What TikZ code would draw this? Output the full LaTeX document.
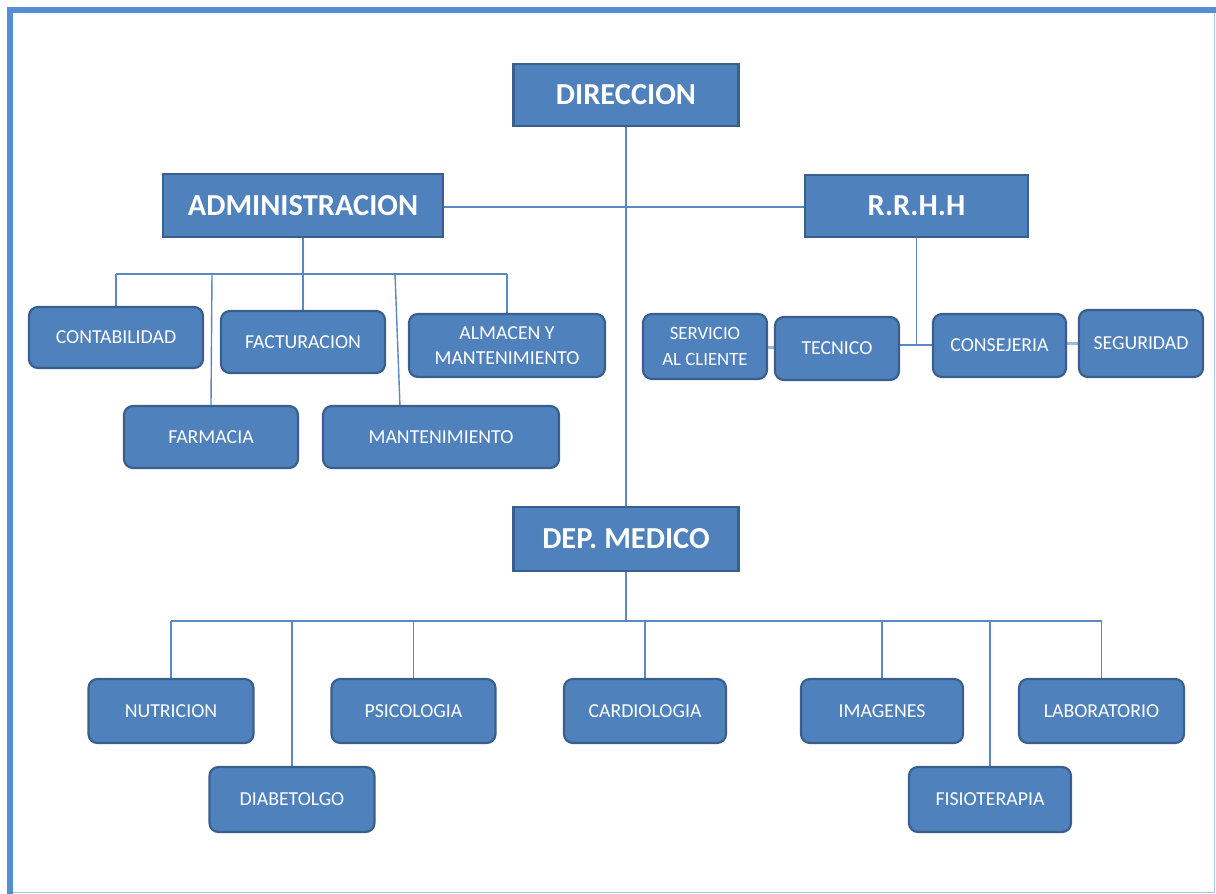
\documentclass[tikz,border=0pt]{standalone}
\usepackage{fontspec}
\setmainfont{Carlito}
\usetikzlibrary{backgrounds}
\definecolor{boxfill}{HTML}{4F81BD}
\definecolor{boxline}{HTML}{3A5F8C}
\definecolor{conn}{HTML}{5B87C2}
\definecolor{connlight}{HTML}{9DB9DC}
\definecolor{framedark}{HTML}{558ED5}
\definecolor{framelight}{HTML}{A9C4E6}
\tikzset{
  x=1pt, y=-1pt,
  bigbox/.style={draw=boxline, fill=boxfill, line width=2.2pt, inner sep=0pt,
    text=white, font=\fontsize{30.5}{36}\selectfont\bfseries, align=center},
  unitbox/.style={draw=boxline, fill=boxfill, line width=2.2pt, inner sep=0pt,
    rounded corners=9pt, text=white, font=\fontsize{19.8}{25}\selectfont, align=center},
  link/.style={draw=conn, line width=1.4pt},
  lightlink/.style={draw=connlight, line width=3pt},
}
\begin{document}
\begin{tikzpicture}
\useasboundingbox (0,0) rectangle (1216,894);
% frame
\draw[framelight, line width=1.5pt] (1214.5,7) -- (1214.5,892.5) -- (7,892.5);
\draw[framedark, line width=6pt] (10,894) -- (10,10) -- (1216,10);

% top level
\node[bigbox, minimum width=225pt, minimum height=62pt] (dir) at (626,95) {DIRECCION};
\node[bigbox, minimum width=280pt, minimum height=63pt] (adm) at (303,205.5) {ADMINISTRACION};
\node[bigbox, minimum width=223pt, minimum height=62pt] (rrhh) at (916.5,206) {R.R.H.H};
\node[bigbox, minimum width=225pt, minimum height=64pt] (dep) at (626,539) {DEP. MEDICO};

% administracion units
\node[unitbox, minimum width=174pt, minimum height=61pt] (cont) at (116,337.5) {CONTABILIDAD};
\node[unitbox, minimum width=164pt, minimum height=62pt] (fact) at (303,342) {FACTURACION};
\node[unitbox, minimum width=196pt, minimum height=63pt] (alm) at (507,345.5) {ALMACEN Y\\MANTENIMIENTO};
\node[unitbox, minimum width=174pt, minimum height=62pt] (farm) at (211,437) {FARMACIA};
\node[unitbox, minimum width=236pt, minimum height=62pt] (mant) at (441,437) {MANTENIMIENTO};

% rrhh units
\node[unitbox, minimum width=124pt, minimum height=65pt, font=\fontsize{18.8}{26}\selectfont] (serv) at (705,346.5) {SERVICIO\\AL CLIENTE};
\node[unitbox, minimum width=124pt, minimum height=63pt] (tec) at (837,348.5) {TECNICO};
\node[unitbox, minimum width=133pt, minimum height=63pt] (cons) at (999.5,345.5) {CONSEJERIA};
\node[unitbox, minimum width=124pt, minimum height=67pt] (seg) at (1141,343.5) {SEGURIDAD};

% medical units
\node[unitbox, minimum width=165pt, minimum height=64pt] (nut) at (171,711) {NUTRICION};
\node[unitbox, minimum width=165pt, minimum height=65pt] (dia) at (292,799.5) {DIABETOLGO};
\node[unitbox, minimum width=164pt, minimum height=64pt] (psi) at (413.5,711) {PSICOLOGIA};
\node[unitbox, minimum width=162pt, minimum height=64pt] (car) at (645,711) {CARDIOLOGIA};
\node[unitbox, minimum width=162pt, minimum height=64pt] (ima) at (882,711) {IMAGENES};
\node[unitbox, minimum width=162pt, minimum height=65pt] (fis) at (990,799.5) {FISIOTERAPIA};
\node[unitbox, minimum width=165pt, minimum height=64pt] (lab) at (1101.5,711) {LABORATORIO};

% junction coordinates
\coordinate (hl) at (0,207);
\coordinate (aL) at (116,274);
\coordinate (aF) at (212,274);
\coordinate (aM) at (395,274);
\coordinate (aR) at (507,274);
\coordinate (mtop) at (400,406);
\coordinate (rj) at (916.5,345);
\coordinate (dbus) at (626,621);
\coordinate (dL) at (171,621);
\coordinate (dR) at (1101.5,621);

\begin{scope}[on background layer]
\draw[link] (dir.south) -- (dep.north);
\draw[link] (adm.east |- hl) -- (rrhh.west |- hl);
% administracion tree
\draw[link] (adm.south) -- (fact.north);
\draw[link] (aL) -- (aR);
\draw[link] (aL) -- (cont.north);
\draw[link] (aF) -- (farm.north);
\draw[link] (aM) -- (mtop);
\draw[link] (aR) -- (alm.north);
% rrhh tree
\draw[link] (rrhh.south) -- (rj);
\draw[link] (tec.east |- rj) -- (cons.west |- rj);
\draw[lightlink] (serv.east |- 0,347) -- (tec.west |- 0,347);
\draw[lightlink] (cons.east |- 0,343) -- (seg.west |- 0,343);
% medical tree
\draw[link] (dep.south) -- (dbus);
\draw[link] (dL) -- (dR);
\draw[link] (dL) -- (nut.north);
\draw[link] (dia.north |- dbus) -- (dia.north);
\draw[link] (psi.north |- dbus) -- (psi.north);
\draw[link] (car.north |- dbus) -- (car.north);
\draw[link] (ima.north |- dbus) -- (ima.north);
\draw[link] (fis.north |- dbus) -- (fis.north);
\draw[link] (dR) -- (lab.north);
\end{scope}
\end{tikzpicture}
\end{document}
